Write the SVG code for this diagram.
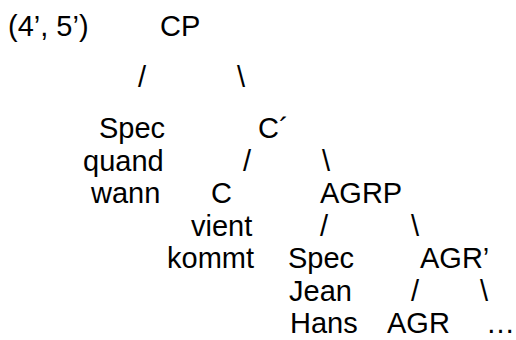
<svg xmlns="http://www.w3.org/2000/svg" width="516" height="340" viewBox="0 0 516 340">
<style>
text{font-family:"Liberation Sans",Arial,sans-serif;font-size:29px;fill:#000}
</style>
<rect width="516" height="340" fill="#fff"/>
<g id="label"><text x="8" y="36">(4’, 5’)</text></g>
<g id="CP"><text x="160" y="36">CP</text></g>
<g id="SpecC"><text x="99" y="138">Spec</text><text x="83" y="170.5">quand</text><text x="91" y="203">wann</text></g>
<g id="Cbar"><text x="258" y="138">C´</text></g>
<g id="C"><text x="211" y="203">C</text><text x="191" y="235.5">vient</text><text x="167" y="268">kommt</text></g>
<g id="AGRP"><text x="320" y="203">AGRP</text></g>
<g id="SpecAGR"><text x="288" y="268">Spec</text><text x="289" y="300.5">Jean</text><text x="290" y="333">Hans</text></g>
<g id="AGRbar"><text x="420" y="268">AGR’</text></g>
<g id="AGR"><text x="387" y="333">AGR</text></g>
<g id="rest"><text x="486" y="333">…</text></g>
<g id="connectors">
<text x="138" y="87">/</text><text x="237" y="87">\</text>
<text x="243" y="170.5">/</text><text x="322" y="170.5">\</text>
<text x="320" y="235.5">/</text><text x="411" y="235.5">\</text>
<text x="411" y="300.5">/</text><text x="480" y="300.5">\</text>
</g>
</svg>
